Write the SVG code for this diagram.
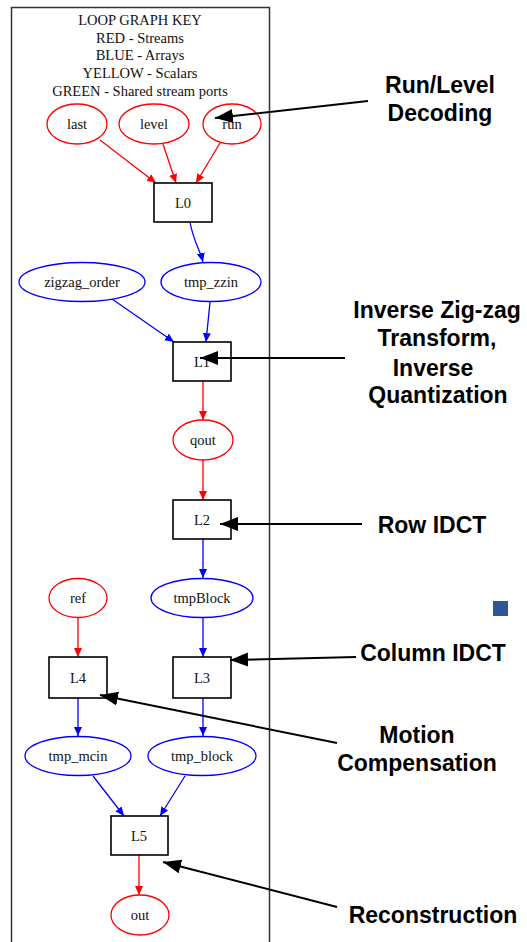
<svg xmlns="http://www.w3.org/2000/svg" width="527" height="942" viewBox="0 0 527 942">
<style>
.frame{fill:none;stroke:#333;stroke-width:1.5}
.key{font-family:"Liberation Serif",serif;font-size:14.5px;fill:#111;text-anchor:middle}
.lbl{font-family:"Liberation Serif",serif;font-size:14.5px;fill:#111;text-anchor:middle}
.red{fill:#fff;stroke:#f00;stroke-width:1.3}
.blue{fill:#fff;stroke:#00f;stroke-width:1.3}
.box{fill:#fff;stroke:#000;stroke-width:1.6}
.er{fill:none;stroke:#f00;stroke-width:1.3;marker-end:url(#ar)}
.eb{fill:none;stroke:#00f;stroke-width:1.3;marker-end:url(#ab)}
.ann{fill:none;stroke:#000;stroke-width:2;marker-end:url(#ak)}
.note{font-family:"Liberation Sans",Arial,sans-serif;font-weight:bold;font-size:23px;fill:#000;text-anchor:middle}
</style>
<defs>
<marker id="ar" markerUnits="userSpaceOnUse" markerWidth="10" markerHeight="10" refX="9" refY="4" orient="auto"><path d="M0,0 L9,4 L0,8 Z" fill="#f00"/></marker>
<marker id="ab" markerUnits="userSpaceOnUse" markerWidth="10" markerHeight="10" refX="9" refY="4" orient="auto"><path d="M0,0 L9,4 L0,8 Z" fill="#00f"/></marker>
<marker id="ak" markerUnits="userSpaceOnUse" markerWidth="19" markerHeight="15" refX="18" refY="7" orient="auto"><path d="M0,0 L18,7 L0,14 Z" fill="#000"/></marker>
</defs>
<rect width="527" height="942" fill="#fff"/>
<path class="frame" d="M11.5,945 L11.5,7.5 L269.5,7.5 L269.5,945"/>
<g id="key">
<text class="key" x="140" y="25">LOOP GRAPH KEY</text>
<text class="key" x="140" y="43">RED - Streams</text>
<text class="key" x="140" y="60">BLUE - Arrays</text>
<text class="key" x="140" y="78">YELLOW - Scalars</text>
<text class="key" x="140" y="96">GREEN - Shared stream ports</text>
</g>
<g id="connectors">
<path class="er" d="M100,140 L156,183"/>
<path class="er" d="M163,144 L176,183"/>
<path class="er" d="M220,143 L196,183"/>
<path class="eb" d="M190,222 C193,240 200,250 203,262"/>
<path class="eb" d="M112,299 L174,342"/>
<path class="eb" d="M210,302 L206,342"/>
<path class="er" d="M203,381 L203,420"/>
<path class="er" d="M203,460 L203,500"/>
<path class="eb" d="M203,539 L203,578"/>
<path class="er" d="M78,618 L78,657"/>
<path class="eb" d="M203,618 L203,657"/>
<path class="eb" d="M78,698 L78,736"/>
<path class="eb" d="M203,698 L203,736"/>
<path class="eb" d="M93,776 L124,816"/>
<path class="eb" d="M185,776 L160,816"/>
<path class="er" d="M139,855 L139,895"/>
</g>
<g id="last"><ellipse class="red" cx="77" cy="124" rx="30" ry="20"/><text class="lbl" x="77" y="129">last</text></g>
<g id="level"><ellipse class="red" cx="154" cy="124" rx="35" ry="20"/><text class="lbl" x="154" y="129">level</text></g>
<g id="run"><ellipse class="red" cx="232" cy="124" rx="29" ry="20"/><text class="lbl" x="232" y="129">run</text></g>
<g id="L0"><rect class="box" x="154" y="183" width="58" height="39"/><text class="lbl" x="183" y="208">L0</text></g>
<g id="zigzag_order"><ellipse class="blue" cx="82" cy="282" rx="63" ry="19.5"/><text class="lbl" x="82" y="287">zigzag_order</text></g>
<g id="tmp_zzin"><ellipse class="blue" cx="211" cy="282" rx="50" ry="19.5"/><text class="lbl" x="211" y="287">tmp_zzin</text></g>
<g id="L1"><rect class="box" x="173" y="342" width="58" height="39"/><text class="lbl" x="202" y="367">L1</text></g>
<g id="qout"><ellipse class="red" cx="203" cy="440" rx="30" ry="20"/><text class="lbl" x="203" y="445">qout</text></g>
<g id="L2"><rect class="box" x="173" y="500" width="58" height="39"/><text class="lbl" x="202" y="525">L2</text></g>
<g id="ref"><ellipse class="red" cx="78" cy="598" rx="29" ry="19.5"/><text class="lbl" x="78" y="603">ref</text></g>
<g id="tmpBlock"><ellipse class="blue" cx="202" cy="598" rx="51" ry="19.5"/><text class="lbl" x="202" y="603">tmpBlock</text></g>
<g id="L4"><rect class="box" x="49" y="657" width="58" height="41"/><text class="lbl" x="78" y="683">L4</text></g>
<g id="L3"><rect class="box" x="173" y="657" width="58" height="41"/><text class="lbl" x="202" y="683">L3</text></g>
<g id="tmp_mcin"><ellipse class="blue" cx="78" cy="756" rx="53" ry="19.5"/><text class="lbl" x="78" y="761">tmp_mcin</text></g>
<g id="tmp_block"><ellipse class="blue" cx="202" cy="756" rx="54" ry="19.5"/><text class="lbl" x="202" y="761">tmp_block</text></g>
<g id="L5"><rect class="box" x="111" y="816" width="57" height="39"/><text class="lbl" x="139" y="841">L5</text></g>
<g id="out"><ellipse class="red" cx="140" cy="915" rx="29" ry="20"/><text class="lbl" x="140" y="920">out</text></g>
<g id="annotations">
<path class="ann" d="M368,101 L215,118"/>
<path class="ann" d="M345,358 L200,358"/>
<path class="ann" d="M362,524 L220,524"/>
<path class="ann" d="M356,657 L230,660"/>
<path class="ann" d="M337,743 L100,695"/>
<path class="ann" d="M337,907 L163,862"/>
</g>
<g id="note-runlevel"><text class="note" x="440" y="93">Run/Level</text><text class="note" x="440" y="121">Decoding</text></g>
<g id="note-izz"><text class="note" x="437" y="318">Inverse Zig-zag</text><text class="note" x="437" y="346">Transform,</text><text class="note" x="433" y="376">Inverse</text><text class="note" x="438" y="403">Quantization</text></g>
<g id="note-row"><text class="note" x="432" y="533">Row IDCT</text></g>
<rect id="bullet" x="493" y="601" width="15" height="15" fill="#2F5597"/>
<g id="note-col"><text class="note" x="433" y="661">Column IDCT</text></g>
<g id="note-mc"><text class="note" x="417" y="743">Motion</text><text class="note" x="417" y="771">Compensation</text></g>
<g id="note-rec"><text class="note" x="433" y="923">Reconstruction</text></g>
</svg>
